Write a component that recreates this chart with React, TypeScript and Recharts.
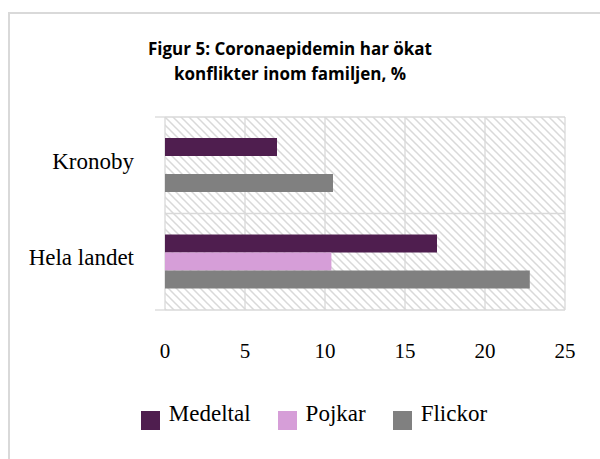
import {
  Bar,
  BarChart,
  CartesianGrid,
  Legend,
  XAxis,
  YAxis,
} from "recharts";

const categories = ["Kronoby", "Hela landet"];
const medeltal = [7, 17];
const pojkar = [null, 10.4];
const flickor = [10.5, 22.8];
const xTicks = [0, 5, 10, 15, 20, 25];
const bandTicks = [0, 1, 2];

const seriesNames = ["Medeltal", "Pojkar", "Flickor"];
const seriesColors = ["#4f1e4f", "#d69ed8", "#808080"];

const data = categories.map((name, i) => ({
  name,
  Medeltal: medeltal[i],
  Pojkar: pojkar[i],
  Flickor: flickor[i],
}));

const SERIF = '"Liberation Serif", "DejaVu Serif", serif';
const GRID = "#d9d9d9";

function CatTick(props: any) {
  const { x, y, payload } = props;
  return (
    <text x={x} y={y - 4} textAnchor="end" dominantBaseline="central" fontFamily={SERIF} fontSize={23} fill="#000">
      {payload.value}
    </text>
  );
}

function LegendContent() {
  return (
    <div style={{ display: "flex", justifyContent: "center", fontFamily: SERIF, fontSize: 23, color: "#000" }}>
      {seriesNames.map((n, i) => (
        <div key={n} style={{ display: "flex", alignItems: "flex-start", marginRight: i < 2 ? 27 : 0 }}>
          <span
            style={{
              display: "inline-block",
              width: 19,
              height: 19,
              background: seriesColors[i],
              marginTop: 10,
              marginRight: 9,
            }}
          />
          <span style={{ lineHeight: "26px" }}>{n}</span>
        </div>
      ))}
    </div>
  );
}

export default function App() {
  return (
    <div style={{ position: "absolute", left: 0, top: 0, width: 600, height: 459, background: "#fff", overflow: "hidden" }}>
      <div
        style={{
          position: "absolute",
          left: 8,
          top: 12,
          width: 600,
          height: 460,
          borderLeft: `2px solid ${GRID}`,
          borderTop: `2px solid ${GRID}`,
        }}
      />
      <div
        style={{
          position: "absolute",
          left: 0,
          top: 36,
          width: 580,
          textAlign: "center",
          fontFamily: '"Open Sans", sans-serif',
          fontWeight: 700,
          fontSize: 17,
          lineHeight: "25px",
          color: "#000",
        }}
      >
        Figur 5: Coronaepidemin har ökat
        <br />
        konflikter inom familjen, %
      </div>
      <svg width={0} height={0} style={{ position: "absolute" }}>
        <defs>
          <pattern id="hatch" width={8} height={8} patternUnits="userSpaceOnUse">
            <rect width={8} height={8} fill="#fff" />
            <path d="M-2,-2 L10,10 M-2,6 L2,10 M6,-2 L10,2" stroke={GRID} strokeWidth={1.5} />
          </pattern>
        </defs>
      </svg>
      <div style={{ position: "absolute", left: 0, top: 0 }}>
        <BarChart
          width={600}
          height={459}
          data={data}
          layout="vertical"
          margin={{ top: 117, right: 35, bottom: 80, left: 0 }}
          barCategoryGap={22}
          barGap={0}
        >
          <CartesianGrid
            stroke={GRID}
            strokeWidth={1.3}
            fill="url(#hatch)"
            fillOpacity={1}
            horizontalCoordinatesGenerator={({ offset }: any) =>
              bandTicks.map((t) => offset.top + (offset.height * t) / (bandTicks.length - 1))
            }
          />
          <XAxis
            type="number"
            domain={[0, 25]}
            ticks={xTicks}
            axisLine={false}
            tickLine={false}
            tickSize={0}
            tickMargin={33}
            height={40}
            tick={{ fill: "#000", fontSize: 21, fontFamily: SERIF }}
          />
          <YAxis
            yAxisId="z"
            type="category"
            dataKey="name"
            width={155}
            tickSize={0}
            tickMargin={21}
            axisLine={false}
            tickLine={false}
            tick={<CatTick />}
          />
          <YAxis
            yAxisId="a"
            type="number"
            domain={[0, 2]}
            ticks={bandTicks}
            reversed
            width={10}
            tickSize={10}
            axisLine={false}
            tick={() => <g />}
            tickLine={{ stroke: GRID, strokeWidth: 1.3 }}
          />
          <Legend verticalAlign="bottom" wrapperStyle={{ top: 401, left: 28, width: 572 }} content={<LegendContent />} />
          <Bar yAxisId="z" dataKey="Medeltal" fill={seriesColors[0]} barSize={18} isAnimationActive={false} />
          <Bar yAxisId="z" dataKey="Pojkar" fill={seriesColors[1]} barSize={18} isAnimationActive={false} />
          <Bar yAxisId="z" dataKey="Flickor" fill={seriesColors[2]} barSize={18} isAnimationActive={false} />
        </BarChart>
      </div>
    </div>
  );
}
